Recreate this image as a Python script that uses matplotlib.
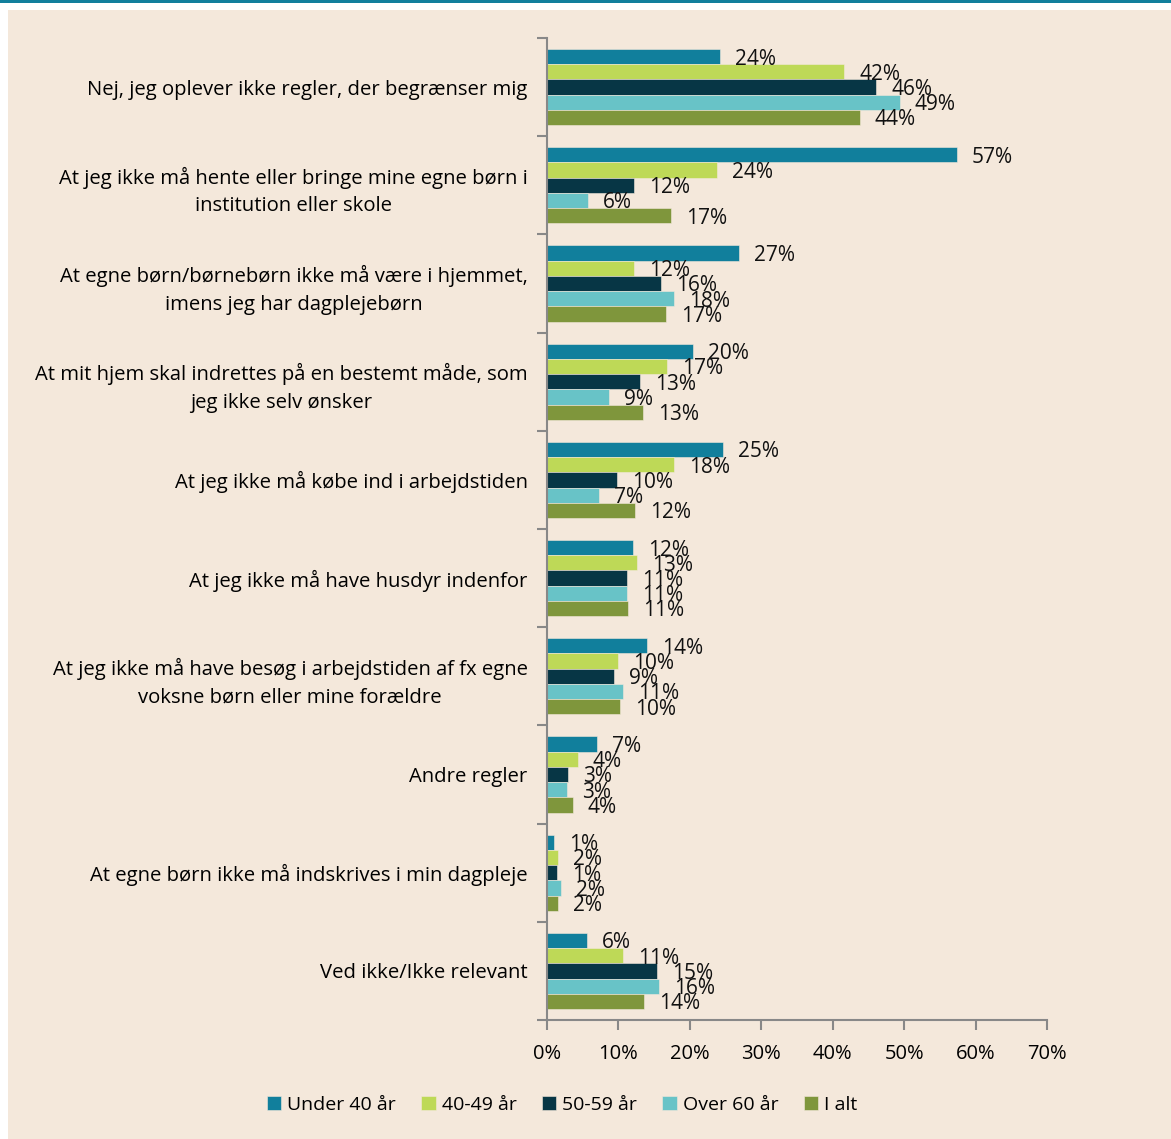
import numpy as np
from matplotlib import pyplot as plt
from matplotlib.patches import Rectangle

plt.rcParams["font.family"] = ["Open Sans", "DejaVu Sans"]

categories = [
    "Nej, jeg oplever ikke regler, der begrænser mig",
    "At jeg ikke må hente eller bringe mine egne børn i\ninstitution eller skole",
    "At egne børn/børnebørn ikke må være i hjemmet,\nimens jeg har dagplejebørn",
    "At mit hjem skal indrettes på en bestemt måde, som\njeg ikke selv ønsker",
    "At jeg ikke må købe ind i arbejdstiden",
    "At jeg ikke må have husdyr indenfor",
    "At jeg ikke må have besøg i arbejdstiden af fx egne\nvoksne børn eller mine forældre",
    "Andre regler",
    "At egne børn ikke må indskrives i min dagpleje",
    "Ved ikke/Ikke relevant",
]
series = ["Under 40 år", "40-49 år", "50-59 år", "Over 60 år", "I alt"]
under40 = [24.2, 57.4, 26.9, 20.4, 24.6, 12.0, 14.0, 7.0, 1.0, 5.6]
age40_49 = [41.6, 23.8, 12.2, 16.8, 17.8, 12.6, 9.9, 4.3, 1.6, 10.6]
age50_59 = [46.1, 12.2, 16.0, 13.0, 9.8, 11.2, 9.4, 2.9, 1.4, 15.4]
over60 = [49.4, 5.7, 17.8, 8.7, 7.3, 11.2, 10.6, 2.8, 2.0, 15.7]
i_alt = [43.8, 17.4, 16.6, 13.4, 12.3, 11.4, 10.2, 3.6, 1.6, 13.6]
colors = ["#117F9C", "#BED957", "#073645", "#68C3C7", "#7F963C"]

data = [under40, age40_49, age50_59, over60, i_alt]

fig = plt.figure(figsize=(11.71, 11.39), dpi=100)
fig.patches.append(Rectangle((8/1171, 0), 1, 1 - 10/1139, transform=fig.transFigure,
                             facecolor="#F4E8DB", edgecolor="none", zorder=-10))
fig.patches.append(Rectangle((0, 1 - 3/1139), 1, 3/1139, transform=fig.transFigure,
                             facecolor="#117F9C", edgecolor="none", zorder=-10))

ax = fig.add_axes([547/1171, 1 - 1020/1139, 500/1171, (1020 - 38)/1139])
ax.set_facecolor("none")
ax.set_zorder(2)

y = np.arange(len(categories))
h = 0.155
for i, (vals, name, col) in enumerate(zip(data, series, colors)):
    pos = y + (i - 2) * h
    ax.barh(pos, vals, height=h, color=col, label=name, edgecolor="#F4E8DB", linewidth=0.4)
    for p, v in zip(pos, vals):
        ax.text(v + 2.1, p + 0.025, f"{v:.0f}%", va="center", ha="left", fontsize=15, color="#111111")

ax.set_xlim(0, 70)
ax.set_ylim(len(categories) - 0.5, -0.5)
ax.set_xticks(np.arange(0, 71, 10))
ax.set_xticklabels([f"{t}%" for t in range(0, 71, 10)], fontsize=14.5)
ax.set_yticks(np.arange(-0.5, len(categories), 1))
ax.set_yticklabels([])
ax.set_yticks(y, minor=True)
ax.set_yticklabels(categories, minor=True, fontsize=14.6, linespacing=1.5)
ax.tick_params(axis="y", which="minor", length=0, pad=14)
ax.tick_params(axis="y", which="major", length=7, color="#888888", width=1.5)
ax.tick_params(axis="x", length=7, color="#888888", width=1.5, pad=10)
for lbl in ax.get_yticklabels(minor=True):
    lbl.set_horizontalalignment("right")
    lbl.set_multialignment("center")
for s in ["top", "right"]:
    ax.spines[s].set_visible(False)
for s in ["left", "bottom"]:
    ax.spines[s].set_color("#888888")
    ax.spines[s].set_linewidth(1.5)

fig.legend(loc="center", bbox_to_anchor=(562/1171, 1 - 1105/1139), ncol=5, frameon=False,
           fontsize=14, handlelength=0.75, handleheight=0.75, handletextpad=0.3, columnspacing=1.3)

plt.savefig("out.png", dpi=100)
